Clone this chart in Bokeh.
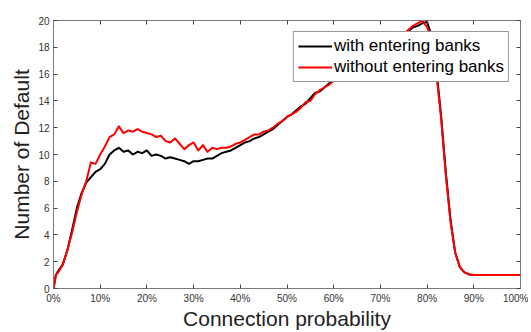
from bokeh.plotting import figure
from bokeh.models import LinearAxis, FixedTicker, Range1d, Legend, LegendItem, CustomLabelingPolicy
from bokeh.embed import file_html
from bokeh.resources import INLINE

# Connection probability (%)
conn_prob = [0, 0.5] + list(range(1, 101))

# Number of defaults, with entering banks (black)
with_entering = [
    0.0, 1.0,
    1.3, 1.8, 2.9, 4.4, 6.0, 7.1, 7.9, 8.3, 8.7, 8.9,
    9.3, 10.0, 10.3, 10.5, 10.2, 10.3, 10.0, 10.2, 10.1, 10.3,
    9.9, 10.0, 9.9, 9.7, 9.8, 9.7, 9.6, 9.5, 9.3, 9.5,
    9.5, 9.6, 9.7, 9.7, 9.9, 10.1, 10.2, 10.3, 10.5, 10.7,
    10.9, 11.0, 11.2, 11.3, 11.5, 11.7, 11.9, 12.2, 12.5, 12.8,
    13.0, 13.3, 13.6, 13.8, 14.2, 14.6, 14.7, 15.0, 15.3, 15.6,
    15.8, 16.1, 16.3, 16.5, 16.8, 17.0, 17.2, 17.5, 17.6, 17.9,
    18.1, 18.3, 18.5, 18.7, 18.9, 19.2, 19.5, 19.6, 19.8, 19.9,
    18.8, 16.3, 12.9, 8.7, 5.2, 2.7, 1.6, 1.2, 1.05, 1.0,
    1.0, 1.0, 1.0, 1.0, 1.0, 1.0, 1.0, 1.0, 1.0, 1.0,
]

# Number of defaults, without entering banks (red)
without_entering = [
    0.0, 1.0,
    1.2, 1.8, 2.9, 4.2, 5.7, 7.0, 8.0, 9.4, 9.3, 10.0,
    10.6, 11.3, 11.5, 12.1, 11.6, 11.8, 11.7, 11.9, 11.7, 11.6,
    11.5, 11.3, 11.4, 11.0, 10.9, 11.2, 10.8, 10.4, 10.7, 10.9,
    10.3, 10.7, 10.2, 10.5, 10.4, 10.5, 10.5, 10.6, 10.8, 10.9,
    11.1, 11.3, 11.5, 11.5, 11.7, 11.8, 12.0, 12.3, 12.5, 12.8,
    13.0, 13.2, 13.5, 13.9, 14.0, 14.5, 14.8, 15.0, 15.2, 15.5,
    15.8, 16.0, 16.3, 16.6, 16.8, 17.0, 17.3, 17.5, 17.7, 17.9,
    18.1, 18.3, 18.6, 18.8, 19.0, 19.3, 19.6, 19.8, 20.0, 19.5,
    18.6, 16.0, 12.7, 8.5, 5.0, 2.7, 1.6, 1.2, 1.05, 1.0,
    1.0, 1.0, 1.0, 1.0, 1.0, 1.0, 1.0, 1.0, 1.0, 1.0,
]

x_ticks = [0, 10, 20, 30, 40, 50, 60, 70, 80, 90, 100]
x_tick_labels = ["0%", "10%", "20%", "30%", "40%", "50%", "60%", "70%", "80%", "90%", "100%"]
y_ticks = [0, 2, 4, 6, 8, 10, 12, 14, 16, 18, 20]

FONT = "Liberation Sans"
AXIS_COL = "#7a7a7a"
TEXT_COL = "#333333"

p = figure(width=528, height=332,
           x_range=Range1d(0, 100), y_range=Range1d(0, 20),
           output_backend="svg", toolbar_location=None,
           min_border_left=53, min_border_top=20, min_border_right=8, min_border_bottom=44,
           background_fill_color="white", border_fill_color="white")
p.xgrid.visible = False
p.ygrid.visible = False
p.outline_line_color = AXIS_COL
p.outline_line_width = 1

p.xaxis.ticker = FixedTicker(ticks=x_ticks)
p.xaxis.major_label_overrides = {t: l for t, l in zip(x_ticks, x_tick_labels)}
p.yaxis.ticker = FixedTicker(ticks=y_ticks)
p.xaxis.axis_label = "Connection probability"
p.yaxis.axis_label = "Number of Default"

for ax in [p.xaxis[0], p.yaxis[0]]:
    ax.major_tick_in = 4
    ax.major_tick_out = 0
    ax.minor_tick_line_color = None
    ax.axis_line_color = AXIS_COL
    ax.major_tick_line_color = "#444444"
    ax.major_label_text_font = FONT
    ax.major_label_text_font_size = "10px"
    ax.major_label_text_color = TEXT_COL
    ax.axis_label_text_font = FONT
    ax.axis_label_text_font_size = "21px"
    ax.axis_label_text_font_style = "normal"
    ax.axis_label_text_color = "#222222"

p.xaxis.major_label_standoff = 4
p.xaxis.axis_label_standoff = 0
p.yaxis.major_label_standoff = 4
p.yaxis.axis_label_standoff = 2

no_labels = CustomLabelingPolicy(code="return new Set()")
top_ax = LinearAxis(ticker=FixedTicker(ticks=x_ticks), major_tick_in=4, major_tick_out=0,
                    minor_tick_line_color=None, axis_line_color=AXIS_COL,
                    major_tick_line_color="#444444", major_label_text_font_size="1px",
                    major_label_standoff=0, major_label_policy=no_labels)
right_ax = LinearAxis(ticker=FixedTicker(ticks=y_ticks), major_tick_in=4, major_tick_out=0,
                      minor_tick_line_color=None, axis_line_color=AXIS_COL,
                      major_tick_line_color="#444444", major_label_text_font_size="1px",
                      major_label_standoff=0, major_label_policy=no_labels)
p.add_layout(top_ax, "above")
p.add_layout(right_ax, "right")

r1 = p.line(conn_prob, with_entering, line_color="black", line_width=2, line_join="round")
r2 = p.line(conn_prob, without_entering, line_color="red", line_width=2, line_join="round")

legend = Legend(items=[LegendItem(label="with entering banks", renderers=[r1]),
                       LegendItem(label="without entering banks", renderers=[r2])],
                location="top_right", margin=11, padding=4, spacing=1,
                glyph_width=34, glyph_height=18, label_height=18, label_width=163,
                label_standoff=2, label_text_font=FONT, label_text_font_size="17px",
                label_text_color="black", border_line_color="#333333", border_line_width=1,
                background_fill_color="white", background_fill_alpha=1.0)
p.add_layout(legend)

open("out.html", "w").write(file_html(p, INLINE))
